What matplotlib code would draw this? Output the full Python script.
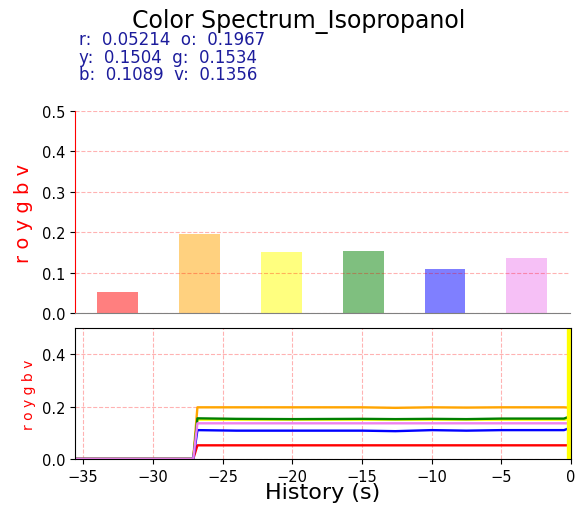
import matplotlib
matplotlib.use("Agg")
import matplotlib.pyplot as plt
import numpy as np

# ── Data ───────────────────────────────────────────────────────────────────────

labels = ["r", "o", "y", "g", "b", "v"]
colors = ["red", "orange", "yellow", "green", "blue", "violet"]
means = [0.05214, 0.1967, 0.1504, 0.1534, 0.1089, 0.1356]

# history samples (seconds before now)
t = [-35.6, -27.1, -26.8, -24.0, -20.0, -15.0, -12.6, -10.0, -7.5, -5.0, -2.0, -0.5, -0.2, 0.0]
hist_r = [0, 0, 0.052, 0.052, 0.052, 0.052, 0.052, 0.052, 0.052, 0.052, 0.052, 0.052, 0.052, 0.052]
hist_o = [0, 0, 0.197, 0.197, 0.197, 0.197, 0.195, 0.197, 0.196, 0.197, 0.197, 0.197, 0.196, 0.196]
hist_y = [0, 0, 0.150, 0.150, 0.150, 0.150, 0.150, 0.150, 0.150, 0.150, 0.150, 0.150, 0.152, 0.150]
hist_g = [0, 0, 0.155, 0.153, 0.152, 0.153, 0.152, 0.153, 0.152, 0.154, 0.154, 0.154, 0.160, 0.155]
hist_b = [0, 0, 0.110, 0.108, 0.108, 0.108, 0.106, 0.110, 0.108, 0.110, 0.110, 0.110, 0.116, 0.110]
hist_v = [0, 0, 0.136, 0.136, 0.136, 0.136, 0.136, 0.136, 0.136, 0.136, 0.136, 0.136, 0.136, 0.136]
history = [hist_r, hist_o, hist_y, hist_g, hist_b, hist_v]

# ── Figure ─────────────────────────────────────────────────────────────────────

fig = plt.figure(figsize=(5.75, 5.06), dpi=100)
fig.text(0.52, 0.958, "Color Spectrum_Isopropanol", ha="center", va="center", fontsize=17)

txt = (f"r:  {means[0]:.4}  o:  {means[1]:.4}\n"
       f"y:  {means[2]:.4}  g:  {means[3]:.4}\n"
       f"b:  {means[4]:.4}  v:  {means[5]:.4}")
fig.text(0.138, 0.886, txt, ha="left", va="center", fontsize=12,
         color="#1c1c9c", linespacing=0.98)

# bar chart of current means
ax1 = fig.add_axes([0.130, 0.379, 0.861, 0.400])
ax1.bar(range(len(means)), means, width=0.5, color=colors, alpha=0.5)
ax1.set_ylim(0, 0.5)
ax1.set_yticks([0, 0.1, 0.2, 0.3, 0.4, 0.5])
ax1.set_xticks([])
ax1.set_ylabel("r o y g b v", color="red", fontsize=14, labelpad=6)
ax1.grid(axis="y", color="red", linestyle="--", alpha=0.3)
for s in ("top", "right"):
    ax1.spines[s].set_visible(False)
ax1.spines["left"].set_color("red")
ax1.spines["bottom"].set_color("gray")
ax1.tick_params(labelsize=10.5)

# history plot
ax2 = fig.add_axes([0.130, 0.091, 0.863, 0.259])
for vals, c in zip(history, colors):
    ax2.plot(t, vals, color=c, linewidth=1.7)
ax2.axvline(0, color="yellow", linewidth=6)
ax2.set_xlim(-35.6, 0)
ax2.set_ylim(0, 0.5)
ax2.set_yticks([0, 0.2, 0.4])
ax2.set_xticks([-35, -30, -25, -20, -15, -10, -5, 0])
ax2.set_ylabel("r o y g b v", color="red", fontsize=10)
ax2.set_xlabel("History (s)", fontsize=16, labelpad=-1)
ax2.grid(color="red", linestyle="--", alpha=0.3)
ax2.tick_params(labelsize=10.5)

fig.savefig("out.png")
